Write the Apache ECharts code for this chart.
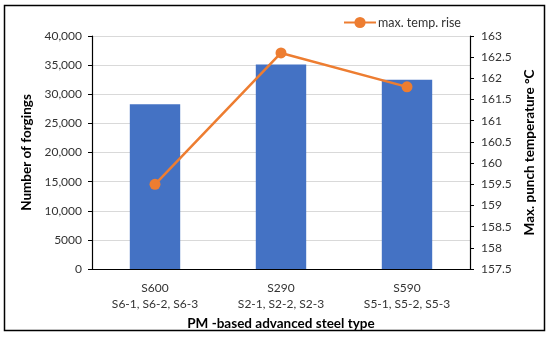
<!DOCTYPE html>
<html><head><meta charset="utf-8">
<script src="https://cdn.jsdelivr.net/npm/echarts@6/dist/echarts.min.js"></script>
<style>html,body{margin:0;padding:0;background:#fff}#c{width:550px;height:337px}</style>
</head><body><div id="c"></div>
<script>
const categories = ['S600\nS6-1, S6-2, S6-3', 'S290\nS2-1, S2-2, S2-3', 'S590\nS5-1, S5-2, S5-3'];
const forgings = [28300, 35100, 32500];
const maxTempRise = [159.5, 162.6, 161.8];
const FONT = 'Lato';
const chart = echarts.init(document.getElementById('c'));
chart.setOption({
  animation: false,
  textStyle: {fontFamily: FONT},
  graphic: [{type: 'rect', shape: {x: 4.5, y: 5.5, width: 540, height: 325}, style: {fill: 'none', stroke: '#000', lineWidth: 1.5}, silent: true}],
  legend: {
    top: 11, left: 338, itemWidth: 32, itemHeight: 14, itemGap: 4,
    textStyle: {fontFamily: FONT, fontSize: 12.5, color: '#333', padding: [0, 0, 0, -3]},
    data: [{name: 'max. temp. rise'}]
  },
  grid: {left: 92, right: 80, top: 36, bottom: 68},
  xAxis: {
    type: 'category', data: categories,
    name: 'PM -based advanced steel type', nameLocation: 'middle', nameGap: 35,
    nameTextStyle: {fontFamily: FONT, fontSize: 13.5, fontWeight: 'bold', color: '#000'},
    axisLine: {lineStyle: {color: '#000', width: 1.2}},
    axisTick: {show: false},
    axisLabel: {fontFamily: FONT, fontSize: 12, color: '#333', lineHeight: 16, margin: 11}
  },
  yAxis: [{
    type: 'value', min: 0, max: 40000, interval: 5000,
    name: 'Number of forgings', nameLocation: 'middle', nameGap: 57, nameRotate: 90,
    nameTextStyle: {fontFamily: FONT, fontSize: 13.5, fontWeight: 'bold', color: '#000'},
    axisLine: {show: true, lineStyle: {color: '#000', width: 1.2}},
    axisTick: {show: true, length: 4, lineStyle: {color: '#000'}},
    axisLabel: {fontFamily: FONT, fontSize: 12, color: '#333', margin: 10,
      formatter: v => v === 5000 ? '5000' : v.toLocaleString('en-US')},
    splitLine: {lineStyle: {color: '#d9d9d9'}}
  }, {
    type: 'value', min: 157.5, max: 163, interval: 0.5,
    name: 'Max. punch temperature °C', nameLocation: 'middle', nameGap: 50, nameRotate: 90,
    nameTextStyle: {fontFamily: FONT, fontSize: 13.5, fontWeight: 'bold', color: '#000'},
    axisLine: {show: true, lineStyle: {color: '#000', width: 1.2}},
    axisTick: {show: true, length: 4, lineStyle: {color: '#000'}},
    axisLabel: {fontFamily: FONT, fontSize: 12, color: '#333', margin: 11},
    splitLine: {show: false}
  }],
  series: [{
    name: 'Number of forgings', type: 'bar', data: forgings, barWidth: '40%',
    itemStyle: {color: '#4472C4'}
  }, {
    name: 'max. temp. rise', type: 'line', yAxisIndex: 1, data: maxTempRise,
    symbol: 'circle', symbolSize: 11,
    lineStyle: {color: '#ED7D31', width: 2.5}, itemStyle: {color: '#ED7D31'}
  }]
});
</script></body></html>
